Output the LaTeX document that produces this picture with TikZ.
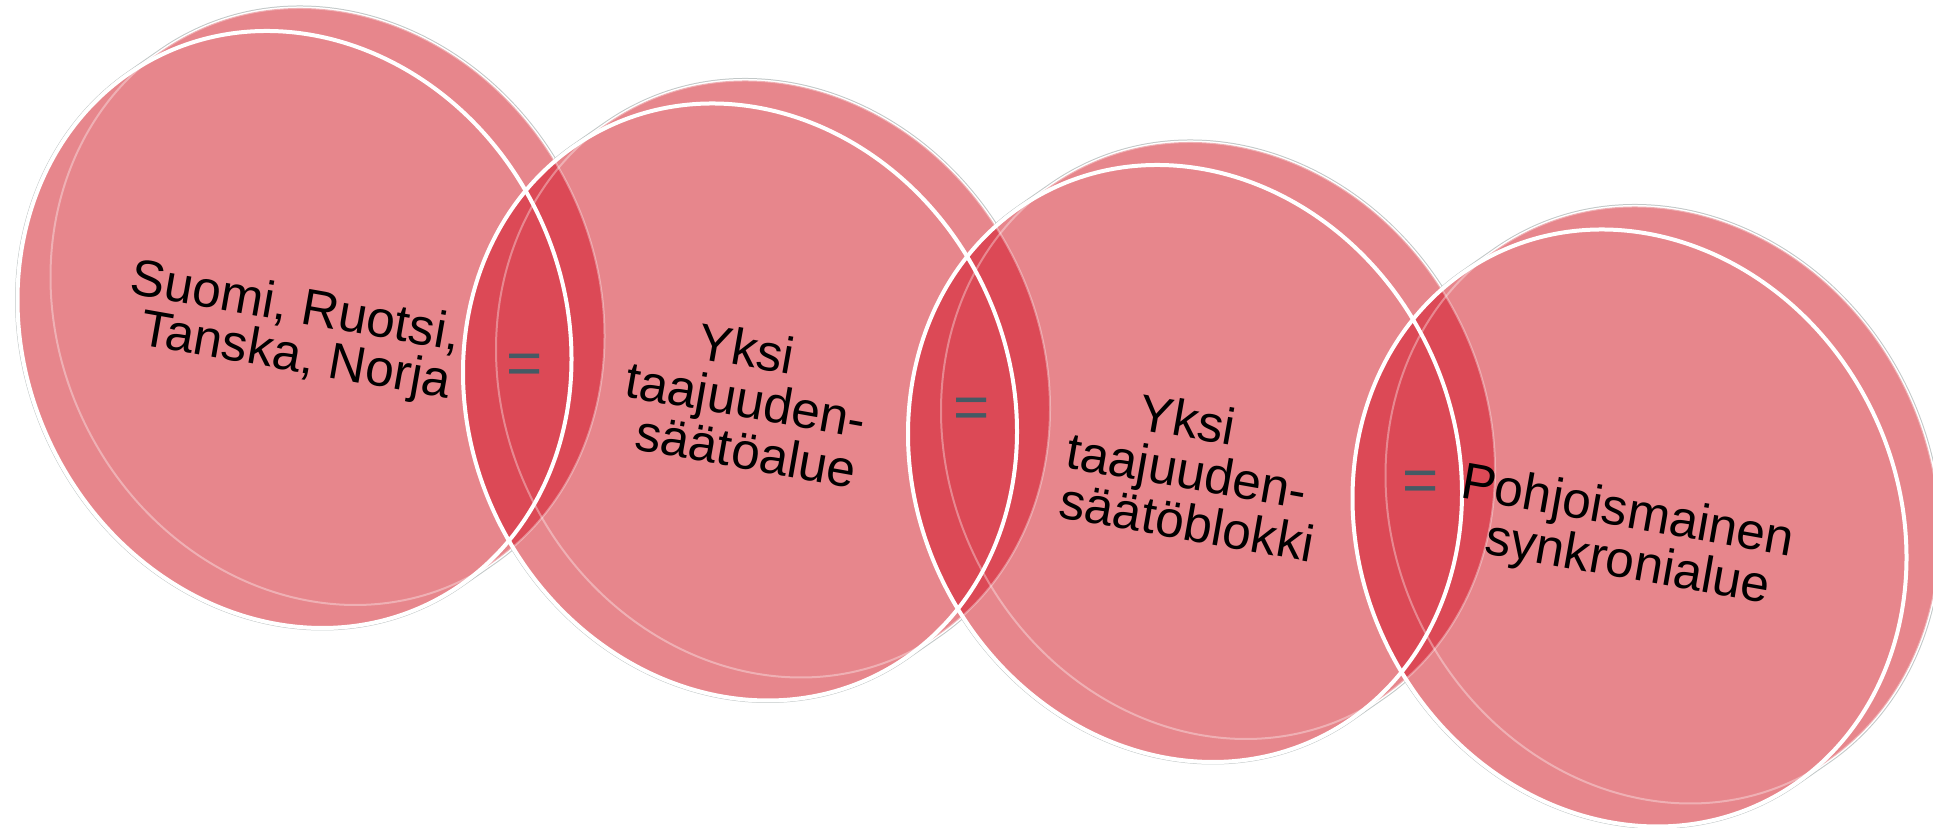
\documentclass[tikz,border=0pt]{standalone}
\usepackage{fontspec}
\setmainfont{Liberation Sans}
\definecolor{pinkfill}{HTML}{E7868C}
\definecolor{lensred}{HTML}{DC4956}
\definecolor{eqcol}{HTML}{455A64}
\definecolor{rimgray}{HTML}{C2C8C8}
\newcommand\solidpath[2]{\foreach \t in {0,...,12}{({#1+\t*33/12},{#2+\t*23/12}) ellipse [x radius=134.7pt, y radius=152.65pt, rotate=26.6]}}
\newcommand\lnpad[1]{\hspace*{#1}}
\tikzset{
  lbl/.style={align=center, text=black, rotate=-10, inner sep=0pt,
    font=\fontsize{25.7}{25.2}\selectfont},
  eqsign/.style={text=eqcol, inner sep=0pt, anchor=base,
    font=\fontsize{31}{31}\selectfont},
  frontrim/.style={draw=white, line width=2pt},
  backrim/.style={draw=white, draw opacity=0.35, line width=1pt}
}
\begin{document}
\begin{tikzpicture}[x=0.5pt,y=0.5pt]
\useasboundingbox (0,0) rectangle (1933,828);
% outer rims
\foreach \cx/\cy in {294.5/498.5,740/426,1185/364.5,1629.5/300}{
  \draw[rimgray, line width=2.5pt] \solidpath{\cx}{\cy};
  \draw[white, line width=1.5pt] \solidpath{\cx}{\cy};
}
% bodies
\foreach \cx/\cy in {294.5/498.5,740/426,1185/364.5,1629.5/300}{
  \fill[pinkfill] \solidpath{\cx}{\cy};
}
% overlaps
\foreach \ax/\ay/\bx/\by in {294.5/498.5/740/426, 740/426/1185/364.5, 1185/364.5/1629.5/300}{
  \begin{scope}
    \clip \solidpath{\ax}{\ay};
    \fill[lensred] \solidpath{\bx}{\by};
  \end{scope}
}
% back faces
\foreach \cx/\cy in {294.5/498.5,740/426,1185/364.5,1629.5/300}{
  \path[backrim] ({\cx+33},{\cy+23}) ellipse [x radius=134.7pt, y radius=152.65pt, rotate=26.6];
}
% front faces
\foreach \cx/\cy in {294.5/498.5,740/426,1185/364.5,1629.5/300}{
  \path[frontrim] (\cx,\cy) ellipse [x radius=134.7pt, y radius=152.65pt, rotate=26.6];
}
% labels
\node[lbl, font=\fontsize{25.7}{24.2}\selectfont] (t1) at (291,495) {Suomi, Ruotsi,\\\lnpad{8.5pt}Tanska, Norja};
\node[lbl] (t2) at (737.5,430) {Yksi\\\lnpad{8.9pt}taajuuden-\\\lnpad{17.8pt}säätöalue};
\node[lbl] (t3) at (1178.5,359) {Yksi\\\lnpad{8.9pt}taajuuden-\\\lnpad{17.8pt}säätöblokki};
\node[lbl] (t4) at (1623,289) {Pohjoismainen\\\lnpad{8.9pt}synkronialue};
% equal signs
\node[eqsign] (e1) at (524.5,443) {=};
\node[eqsign] (e2) at (972,399) {=};
\node[eqsign] (e3) at (1420.5,326) {=};
\end{tikzpicture}
\end{document}
